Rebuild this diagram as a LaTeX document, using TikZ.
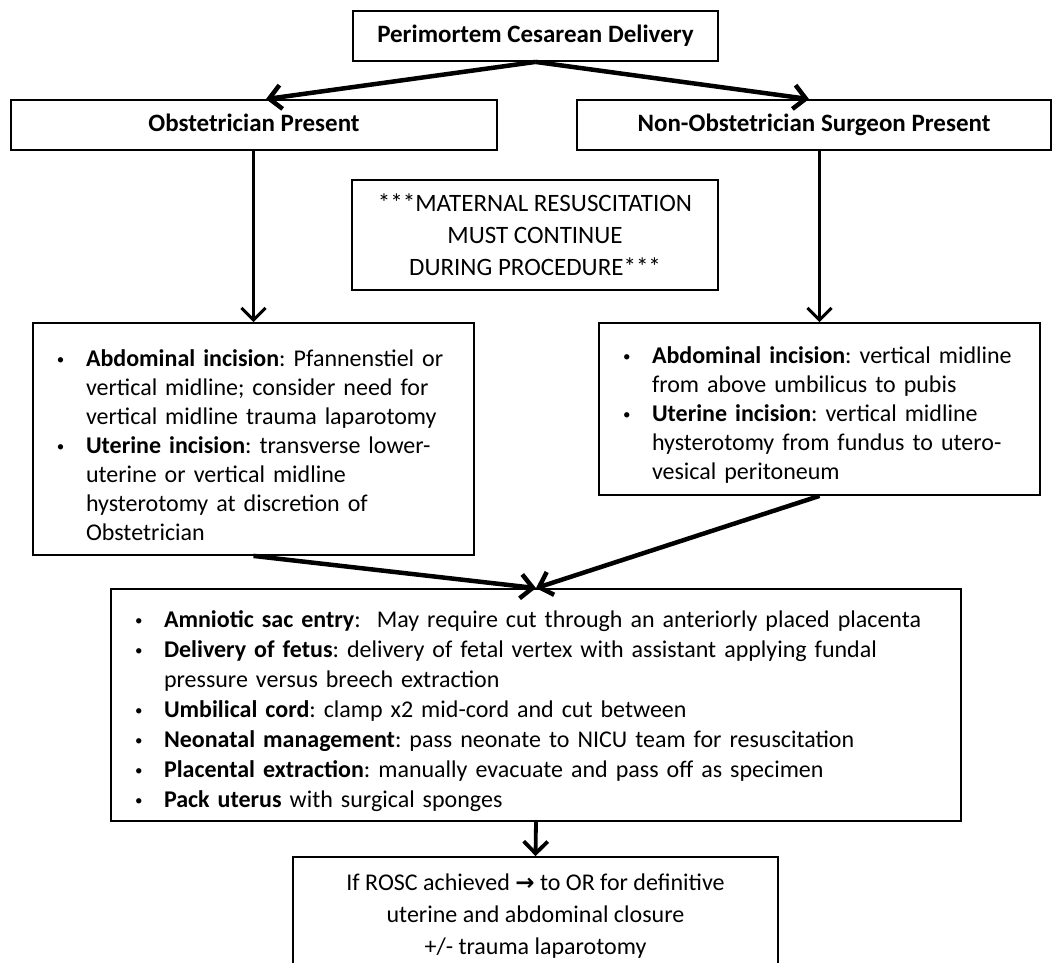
\documentclass[tikz,border=0pt]{standalone}
\usepackage{fontspec}
\setmainfont{Carlito}
\newfontfamily\arrowfont{DejaVu Sans}
\usetikzlibrary{arrows.meta, calc}

% small bullet and the list used inside the boxes
\newcommand{\smallbul}{\raisebox{2pt}{\fontsize{15}{15}\selectfont\textbullet}}
\newenvironment{steplist}{%
  \begin{list}{\smallbul}{%
    \setlength{\leftmargin}{53pt}%
    \setlength{\labelwidth}{10pt}%
    \setlength{\labelsep}{19pt}%
    \setlength{\itemsep}{0pt}\setlength{\parsep}{0pt}%
    \setlength{\topsep}{0pt}\setlength{\partopsep}{0pt}%
    \renewcommand{\makelabel}[1]{##1\hfil}}\raggedright\frenchspacing}%
  {\end{list}}

\begin{document}
\begin{tikzpicture}[
  x=1pt, y=-1pt,
  box/.style={draw, line width=1.8pt, inner xsep=0pt, inner ysep=0pt,
    font=\fontsize{25}{32}\selectfont},
  head/.style={box, text height=17pt, text depth=5pt, font=\fontsize{25}{30}\selectfont\bfseries},
  listbox/.style={box, align=left, font=\fontsize{24}{29}\selectfont},
  arr/.style={-{Straight Barb[length=12pt, width=24pt]}, line width=4.5pt},
  thinarr/.style={arr, line width=3pt},
]
  \useasboundingbox (0,0) rectangle (1052,962);
  \clip (0,0) rectangle (1052,962);

  \node[head, minimum width=365pt, minimum height=50pt] (cesarean) at (535.5,36) {Perimortem Cesarean Delivery};
  \node[head, minimum width=486pt, minimum height=50pt] (obst) at (254,125) {Obstetrician Present};
  \node[head, minimum width=474pt, minimum height=50pt] (nonobst) at (814,125) {Non-Obstetrician Surgeon Present};

  \node[box, align=center, minimum width=366pt, minimum height=110pt] (resus) at (535,235)
    {***MATERNAL RESUSCITATION\\ MUST CONTINUE\\ DURING PROCEDURE***};

  \node[listbox, text width=441pt, minimum height=232pt] (obstinc) at (253.5,439) {%
    \begin{steplist}
      \item \textbf{Abdominal incision}: Pfannenstiel or\\ vertical midline; consider need for\\ vertical midline trauma laparotomy
      \item \textbf{Uterine incision}: transverse lower-\\ uterine or vertical midline\\ hysterotomy at discretion of\\ Obstetrician
    \end{steplist}};

  \node[listbox, text width=441pt, minimum height=172pt] (surginc) at (819.5,409) {%
    \begin{steplist}
      \item \textbf{Abdominal incision}: vertical midline\\ from above umbilicus to pubis
      \item \textbf{Uterine incision}: vertical midline\\ hysterotomy from fundus to utero-\\ vesical peritoneum
    \end{steplist}};

  \node[listbox, text width=850pt, minimum height=232pt, font=\fontsize{24}{30}\selectfont] (delivery) at (536,705) {%
    \begin{steplist}
      \item \textbf{Amniotic sac entry}:\ \ May require cut through an anteriorly placed placenta
      \item \textbf{Delivery of fetus}: delivery of fetal vertex with assistant applying fundal\\ pressure versus breech extraction
      \item \textbf{Umbilical cord}: clamp x2 mid-cord and cut between
      \item \textbf{Neonatal management}: pass neonate to NICU team for resuscitation
      \item \textbf{Placental extraction}: manually evacuate and pass off as specimen
      \item \textbf{Pack uterus} with surgical sponges
    \end{steplist}};

  \node[box, align=center, minimum width=485pt, minimum height=118pt, font=\fontsize{24}{32}\selectfont] (rosc) at (535.5,916)
    {If ROSC achieved {\arrowfont\bfseries\fontsize{23}{32}\selectfont →} to OR for definitive\\ uterine and abdominal closure\\ +/- trauma laparotomy};

  \draw[arr] (cesarean.south) -- ([xshift=12pt]obst.north);
  \draw[arr] (cesarean.south) -- ([xshift=-5pt]nonobst.north);
  \draw[thinarr] (obst.south -| obstinc.north) -- (obstinc.north);
  \draw[thinarr] (nonobst.south -| surginc.north) -- (surginc.north);
  \draw[arr] (obstinc.south) -- (delivery.north);
  \draw[arr] (surginc.south) -- (delivery.north);
  \draw[arr, line width=3.8pt] (delivery.south) -- (rosc.north);
\end{tikzpicture}
\end{document}
